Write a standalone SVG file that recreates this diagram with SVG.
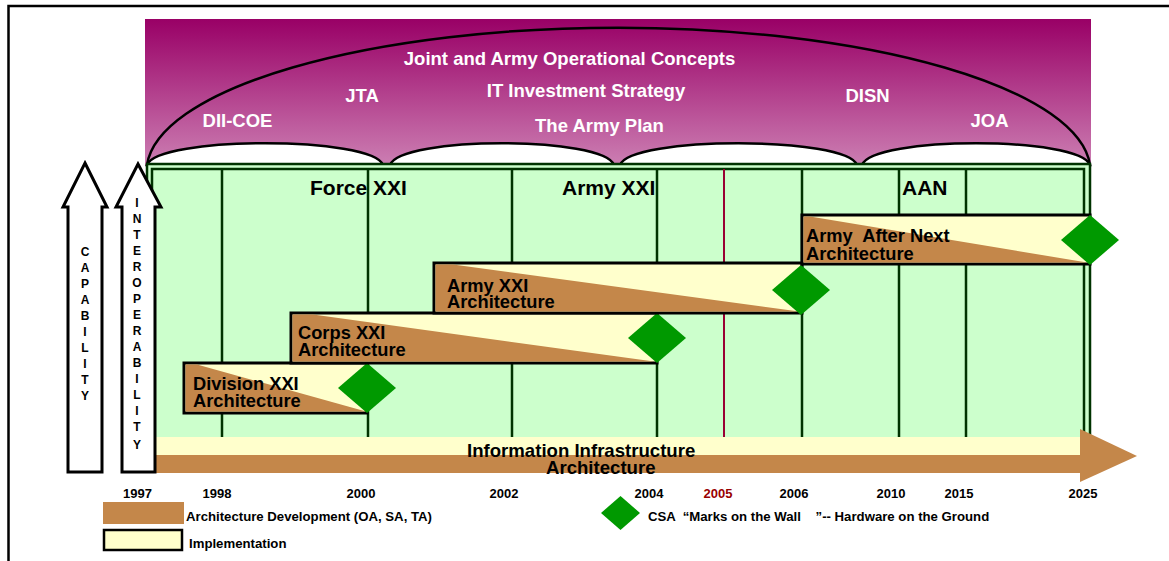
<svg xmlns="http://www.w3.org/2000/svg" width="1169" height="561" viewBox="0 0 1169 561">
<defs>
<linearGradient id="purp" x1="0" y1="0" x2="0" y2="1">
<stop offset="0" stop-color="#990066"/>
<stop offset="1" stop-color="#cc7fb3"/>
</linearGradient>
</defs>
<style>
text{font-family:"Liberation Sans",Arial,sans-serif;font-weight:bold}
.wt{fill:#ffffff;font-size:18.5px;text-anchor:middle}
.hd{fill:#000;font-size:21px}
.bt{fill:#000;font-size:18.3px}
.yr{fill:#000;font-size:13px;text-anchor:middle}
.lg{fill:#000;font-size:13.2px}
.al{fill:#000;font-size:12px;text-anchor:middle}
.grid{stroke:#003300;stroke-width:2.5;fill:none}
.bump{fill:#ffffff;stroke:#000;stroke-width:2.5}
.bar{fill:#ffffcc;stroke:#000;stroke-width:3}
.brown{fill:#c4874a}
.dia{fill:#009900}
.arr{fill:#ffffff;stroke:#000;stroke-width:3;stroke-linejoin:miter}
</style>
<rect width="1169" height="561" fill="#ffffff"/>
<g id="frame">
<path d="M8.5,561 V6 H1169" fill="none" stroke="#000" stroke-width="2.5"/>
</g>
<g id="concepts">
<rect x="145" y="19" width="946" height="147" fill="url(#purp)"/>
<path class="bump" d="M147,165 C157,136 373,136 383,165 Z"/>
<path class="bump" d="M390,165 C400,136 604,136 614,165 Z"/>
<path class="bump" d="M620,165 C630,136 847,136 857,165 Z"/>
<path class="bump" d="M862,165 C872,136 1080,136 1090,165 Z"/>
<path d="M147,165 A472,144 0 0 1 1090,165" fill="none" stroke="#000" stroke-width="2.5"/>
<text class="wt" x="569.5" y="65">Joint and Army Operational Concepts</text>
<text class="wt" x="586" y="97">IT Investment Strategy</text>
<text class="wt" x="599.5" y="132">The Army Plan</text>
<text class="wt" x="362" y="102">JTA</text>
<text class="wt" x="237.5" y="127">DII-COE</text>
<text class="wt" x="867.5" y="102">DISN</text>
<text class="wt" x="989.5" y="127">JOA</text>
</g>
<g id="timeline-panel">
<rect x="147" y="164" width="944" height="274" fill="#ccffcc"/>
<path class="grid" d="M147,438 V164 H1090 V438 M152,438 V169 H1084 V438"/>
<path class="grid" d="M222,169 V438 M368,169 V438 M512,169 V438 M657,169 V438 M802,169 V438 M899,169 V438 M966,169 V438"/>
<path d="M724,169 V438" stroke="#990033" stroke-width="2"/>
<text class="hd" x="310" y="195">Force XXI</text>
<text class="hd" x="562" y="195">Army XXI</text>
<text class="hd" x="902" y="195">AAN</text>
</g>
<g id="info-infra">
<rect x="155" y="437" width="926" height="18" fill="#ffffcc"/>
<rect x="155" y="455" width="926" height="18" class="brown"/>
<polygon points="1080,429 1137,456 1080,482" class="brown"/>
<text class="bt" x="467" y="457" style="font-size:18.6px">Information Infrastructure</text>
<text class="bt" x="546" y="474" style="font-size:18.6px">Architecture</text>
</g>
<g id="capability">
<polygon class="arr" points="85,163 107,207 102,207 102,472 68,472 68,207 63,207"/>
<text class="al"><tspan x="85" y="256">C</tspan><tspan x="85" y="272">A</tspan><tspan x="85" y="288">P</tspan><tspan x="85" y="304">A</tspan><tspan x="85" y="320">B</tspan><tspan x="85" y="336">I</tspan><tspan x="85" y="352">L</tspan><tspan x="85" y="368">I</tspan><tspan x="85" y="384">T</tspan><tspan x="85" y="400">Y</tspan></text>
</g>
<g id="interoperability">
<polygon class="arr" points="138,164 161,207 155,207 155,472 122,472 122,207 116,207"/>
<text class="al"><tspan x="137" y="207">I</tspan><tspan x="137" y="223">N</tspan><tspan x="137" y="239">T</tspan><tspan x="137" y="255">E</tspan><tspan x="137" y="271">R</tspan><tspan x="137" y="287">O</tspan><tspan x="137" y="303">P</tspan><tspan x="137" y="319">E</tspan><tspan x="137" y="335">R</tspan><tspan x="137" y="351">A</tspan><tspan x="137" y="367">B</tspan><tspan x="137" y="383">I</tspan><tspan x="137" y="399">L</tspan><tspan x="137" y="415">I</tspan><tspan x="137" y="431">T</tspan><tspan x="137" y="449">Y</tspan></text>
</g>
<g id="division-xxi">
<rect class="bar" x="184" y="363" width="183" height="50"/>
<polygon class="brown" points="185.5,364.5 197,364.5 366,411.5 185.5,411.5"/>
<text class="bt"><tspan x="193" y="390">Division XXI</tspan><tspan x="193" y="407">Architecture</tspan></text>
<polygon class="dia" points="367,363 396,388 367,413 338,388"/>
</g>
<g id="corps-xxi">
<rect class="bar" x="291" y="313" width="366" height="50"/>
<polygon class="brown" points="292.5,314.5 313,314.5 654,361.5 292.5,361.5"/>
<text class="bt"><tspan x="298" y="339">Corps XXI</tspan><tspan x="298" y="356">Architecture</tspan></text>
<polygon class="dia" points="657,313 686,338 657,363 628,338"/>
</g>
<g id="army-xxi">
<rect class="bar" x="434" y="263" width="368" height="50"/>
<polygon class="brown" points="435.5,264.5 453,264.5 799,311.5 435.5,311.5"/>
<text class="bt"><tspan x="447" y="292">Army XXI</tspan><tspan x="447" y="308">Architecture</tspan></text>
<polygon class="dia" points="801,265 830,290 801,315 772,290"/>
</g>
<g id="army-after-next">
<rect class="bar" x="802" y="215" width="288" height="49"/>
<polygon class="brown" points="803.5,216.5 810,216.5 1087,262.5 803.5,262.5"/>
<text class="bt" xml:space="preserve"><tspan x="806" y="242">Army  After Next</tspan><tspan x="806" y="260">Architecture</tspan></text>
<polygon class="dia" points="1090,215 1119,240 1090,265 1061,240"/>
</g>
<g id="years">
<text class="yr" x="137.5" y="498">1997</text>
<text class="yr" x="217" y="498">1998</text>
<text class="yr" x="361" y="498">2000</text>
<text class="yr" x="504" y="498">2002</text>
<text class="yr" x="649" y="498">2004</text>
<text class="yr" x="718" y="498" style="fill:#990000">2005</text>
<text class="yr" x="794" y="498">2006</text>
<text class="yr" x="891" y="498">2010</text>
<text class="yr" x="959" y="498">2015</text>
<text class="yr" x="1083" y="498">2025</text>
</g>
<g id="legend">
<rect x="103" y="502" width="81" height="22" class="brown"/>
<text class="lg" x="186" y="521">Architecture Development (OA, SA, TA)</text>
<rect x="104" y="530" width="78" height="20" fill="#ffffcc" stroke="#000" stroke-width="2.5"/>
<text class="lg" x="189" y="548">Implementation</text>
<polygon class="dia" points="620.5,496 640,513 620.5,530 601,513"/>
<text class="lg" x="648" y="521" xml:space="preserve">CSA  “Marks on the Wall    ”-- Hardware on the Ground</text>
</g>
</svg>
